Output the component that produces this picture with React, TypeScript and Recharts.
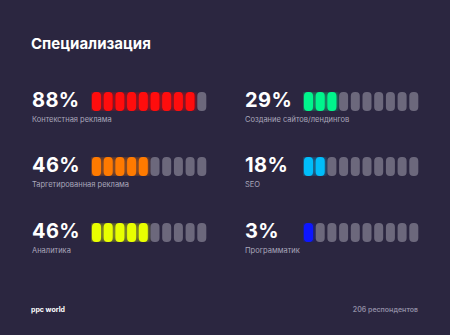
import React from "react"
import { BarChart, Bar, Cell, XAxis, YAxis } from "recharts"

const title = "Специализация"
const labels = [
  "Контекстная реклама",
  "Создание сайтов/лендингов",
  "Таргетированная реклама",
  "SEO",
  "Аналитика",
  "Программатик",
]
const percents = [88, 29, 46, 18, 46, 3]
const filledCounts = [9, 3, 5, 2, 5, 1]
const colors = ["#ff0a0a", "#00f58c", "#ff7a00", "#00bdfa", "#e8ff00", "#0a14ff"]
const segments = ["1", "2", "3", "4", "5", "6", "7", "8", "9", "10"]
const footerLeft = "ppc world"
const footerRight = "206 респондентов"

const BG = "#2b2640"
const EMPTY = "#6c687c"
const FONT = "Inter, 'Noto Sans', sans-serif"

function Pills({ idx, color, filled }: { idx: number; color: string; filled: number }) {
  const data = segments.map((s) => ({ seg: s, value: 1 }))
  const fid = `glow${idx}`
  return (
    <BarChart width={117} height={19} data={data} margin={{ top: 0, right: 0, bottom: 0, left: 0 }} style={{ overflow: "visible" }}>
      <defs>
        <filter id={fid} x="-100%" y="-50%" width="300%" height="200%">
          <feGaussianBlur in="SourceGraphic" stdDeviation="2.6" result="b" />
          <feComponentTransfer in="b" result="b2">
            <feFuncA type="linear" slope="0.8" />
          </feComponentTransfer>
          <feMerge>
            <feMergeNode in="b2" />
            <feMergeNode in="SourceGraphic" />
          </feMerge>
        </filter>
      </defs>
      <XAxis dataKey="seg" hide />
      <YAxis hide domain={[0, 1]} />
      <Bar dataKey="value" barSize={9} radius={4} isAnimationActive={false}>
        {data.map((d, i) => (
          <Cell key={d.seg} fill={i < filled ? color : EMPTY} filter={i < filled ? `url(#${fid})` : undefined} />
        ))}
      </Bar>
    </BarChart>
  )
}

const colX = [32, 245]
const chartX = [91, 303]
const rowY = [92, 157, 223]

export default function App() {
  return (
    <div style={{ position: "absolute", left: 0, top: 0, width: 450, height: 335, background: BG, fontFamily: FONT, overflow: "hidden" }}>
      <div style={{ position: "absolute", left: 31, top: 34, color: "#fff", fontSize: 15, fontWeight: 700 }}>{title}</div>
      {labels.map((label, i) => {
        const col = i % 2
        const row = Math.floor(i / 2)
        const y = rowY[row]
        return (
          <React.Fragment key={label}>
            <div style={{ position: "absolute", left: colX[col], top: y - 3, color: "#fff", fontSize: 20, fontWeight: 700, lineHeight: "22px", letterSpacing: 0.4 }}>
              {percents[i]}%
            </div>
            <div style={{ position: "absolute", left: colX[col], top: y + 23, color: "#aaa6bb", fontSize: 7.5, lineHeight: "9px" }}>
              {label}
            </div>
            <div style={{ position: "absolute", left: chartX[col], top: y }}>
              <Pills idx={i} color={colors[i]} filled={filledCounts[i]} />
            </div>
          </React.Fragment>
        )
      })}
      <div style={{ position: "absolute", left: 31, top: 305, color: "#fff", fontSize: 7, fontWeight: 700 }}>{footerLeft}</div>
      <div style={{ position: "absolute", right: 32, top: 305, color: "#8f8ba2", fontSize: 7, fontWeight: 600 }}>{footerRight}</div>
    </div>
  )
}
